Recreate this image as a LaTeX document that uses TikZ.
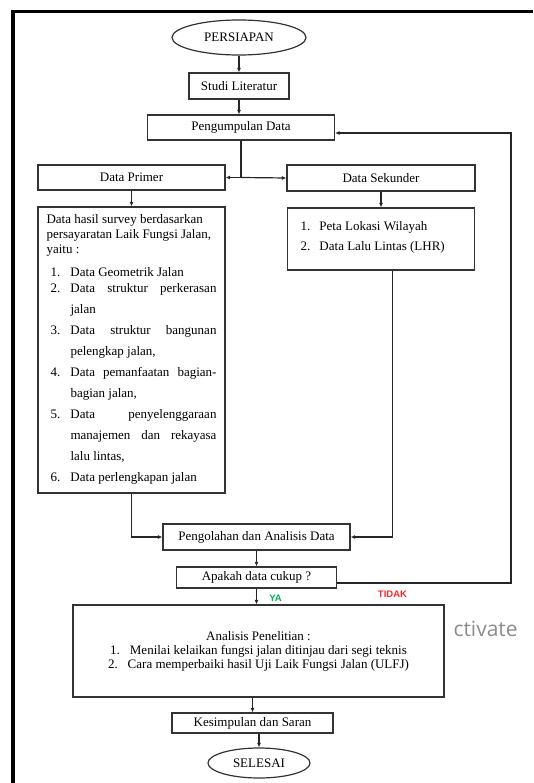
\documentclass[tikz,border=0pt]{standalone}
\usepackage{fontspec}
\setmainfont{Liberation Serif}
\newfontfamily\labelfont{Liberation Sans}
\newfontfamily\markfont{Open Sans}
\usetikzlibrary{positioning,shapes.geometric,arrows.meta,calc}
\definecolor{yagreen}{HTML}{00B050}
\definecolor{tidakred}{HTML}{FF2525}

\newcommand{\listno}[1]{\makebox[24pt][l]{\hspace*{4pt}#1.}}
\newcommand{\listgap}{\hspace*{24pt}}
\newcommand{\justline}[1]{\makebox[146pt][s]{#1}}

\tikzset{
  flowbox/.style={draw=black!80, line width=1.2pt, rectangle, inner sep=0pt,
    align=center, font=\fontsize{13}{15}\selectfont},
  detailbox/.style={draw=black!80, line width=1.2pt, rectangle, inner sep=0pt,
    font=\fontsize{13}{15}\selectfont},
  terminal/.style={draw=black!80, line width=1.2pt, ellipse, inner sep=0pt,
    font=\fontsize{13}{15}\selectfont},
  flow/.style={draw=black!85, line width=1.2pt, -{Latex[length=4.5pt,width=4pt]}},
  answer/.style={font=\labelfont\bfseries\fontsize{9.5}{10}\selectfont}
}

\begin{document}
\begin{tikzpicture}[x=1pt,y=-1pt,on grid]
  \useasboundingbox (0,0) rectangle (533,783);
  % page frame
  \draw[line width=3.5pt] (13,783) -- (13,11.5) -- (533,11.5);

  \node[terminal, minimum width=134pt, minimum height=35pt] (persiapan) at (239,37.5) {PERSIAPAN};
  \node[flowbox, minimum width=100pt, minimum height=26pt] (studi) [below=48.5pt of persiapan] {Studi Literatur};
  \node[flowbox, minimum width=187pt, minimum height=25pt] (kumpul) [below=41.5pt of studi, xshift=2pt] {Pengumpulan Data};
  \node[flowbox, minimum width=187pt, minimum height=25pt] (primer) [below left=50pt and 109.5pt of kumpul] {Data Primer};
  \node[flowbox, minimum width=188pt, minimum height=26pt] (sekunder) [below right=50.5pt and 140pt of kumpul] {Data Sekunder};

  \node[detailbox, inner xsep=8.5pt] (primerdet) [below=172.5pt of primer] {\parbox[c][286pt][t]{170pt}{\vspace*{7.5pt}%
    Data hasil survey berdasarkan\\
    persayaratan Laik Fungsi Jalan,\\
    yaitu :\\[8pt]
    \listno{1}Data Geometrik Jalan\\[1pt]
    \listno{2}\justline{Data struktur perkerasan}\\[6pt]
    \listgap jalan\\[6pt]
    \listno{3}\justline{Data struktur bangunan}\\[6pt]
    \listgap pelengkap jalan,\\[6pt]
    \listno{4}\justline{Data pemanfaatan bagian-}\\[6pt]
    \listgap bagian jalan,\\[6pt]
    \listno{5}\justline{Data penyelenggaraan}\\[6pt]
    \listgap\justline{manajemen dan rekayasa}\\[6pt]
    \listgap lalu lintas,\\[6pt]
    \listno{6}Data perlengkapan jalan}};
  \node[detailbox] (sekunderdet) [below=61pt of sekunder] {\parbox[c][62pt][t]{187pt}{\vspace*{13.5pt}%
    \hspace*{13pt}\makebox[19pt][l]{1.}Peta Lokasi Wilayah\\[5pt]
    \hspace*{13pt}\makebox[19pt][l]{2.}Data Lalu Lintas (LHR)}};

  \node[flowbox, minimum width=187pt, minimum height=26pt] (olah) at (256.5,537) {Pengolahan dan Analisis Data};
  \node[flowbox, minimum width=160pt, minimum height=21pt] (cukup) [below=40.5pt of olah] {Apakah data cukup ?};
  \node[flowbox, minimum width=371pt, minimum height=92pt, font=\fontsize{13}{14}\selectfont] (analisis) [below=73.5pt of cukup, xshift=2pt]
    {Analisis Penelitian :\\
     1.\hspace{10pt}Menilai kelaikan fungsi jalan ditinjau dari segi teknis\\
     2.\hspace{10pt}Cara memperbaiki hasil Uji Laik Fungsi Jalan (ULFJ)};
  \node[flowbox, minimum width=161pt, minimum height=20pt] (simpul) [below=72pt of analisis, xshift=-6pt] {Kesimpulan dan Saran};
  \node[terminal, minimum width=102pt, minimum height=30pt] (selesai) [below=40pt of simpul, xshift=6.5pt] {SELESAI};

  \coordinate (turn) at (511,583);
  \node[answer, text=yagreen] (ya) at (275.5,598) {YA};
  \node[answer, text=tidakred] (tidak) at (392.5,594) {TIDAK};
  \node[font=\markfont\fontsize{21}{21}\selectfont, text=black!45, anchor=west] (watermark) at (450,629) {ctivate};

  \draw[flow] (persiapan) -- (persiapan |- studi.north);
  \draw[flow] (studi) -- (studi |- kumpul.north);
  \draw[draw=black!85, line width=1.2pt] (kumpul.south) -- (kumpul.south |- primer) coordinate (split);
  \draw[flow] (split) -- (primer.east);
  \draw[flow] (split) -- (sekunder.west);
  \draw[flow] (primer) -- (primer |- primerdet.north);
  \draw[flow] (sekunder) -- (sekunder |- sekunderdet.north);
  \draw[flow] (primerdet.south) |- (olah.west);
  \draw[flow] ([xshift=11.5pt]sekunderdet.south) |- (olah.east);
  \draw[flow] (olah) -- (olah |- cukup.north);
  \draw[flow] (cukup.south) -- (cukup.south |- analisis.north);
  \draw[flow] ([yshift=-5.5pt]cukup.east) -- (turn) |- ([yshift=-5.5pt]kumpul.east);
  \draw[flow] (simpul |- analisis.south) -- (simpul.north);
  \draw[flow] (simpul.south -| selesai) -- (selesai.north);
\end{tikzpicture}
\end{document}
